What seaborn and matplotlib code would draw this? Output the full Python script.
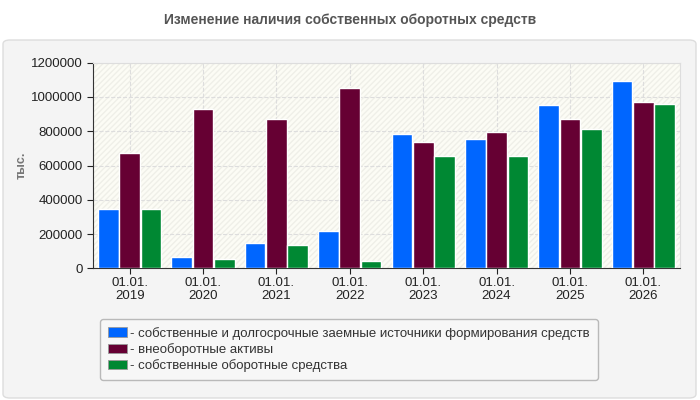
import matplotlib
matplotlib.use('Agg')

import pandas as pd
import matplotlib.pyplot as plt
import seaborn as sns
from matplotlib.patches import FancyBboxPatch, Rectangle
from matplotlib.ticker import StrMethodFormatter

dates = ['01.01.\n2019', '01.01.\n2020', '01.01.\n2021', '01.01.\n2022',
         '01.01.\n2023', '01.01.\n2024', '01.01.\n2025', '01.01.\n2026']
own_long = [346000, 66000, 150000, 218000, 784000, 755000, 953000, 1093000]
noncurrent = [673000, 930000, 871000, 1052000, 737000, 796000, 871000, 971000]
own_working = [346000, 54000, 136000, 43000, 655000, 655000, 813000, 959000]

names = ['- собственные и долгосрочные заемные источники формирования средств',
         '- внеоборотные активы',
         '- собственные оборотные средства']
colors = ['#0066ff', '#660033', '#008833']

df = pd.DataFrame({
    'date': dates * 3,
    'value': own_long + noncurrent + own_working,
    'series': [names[0]] * 8 + [names[1]] * 8 + [names[2]] * 8,
})

sns.set_style('white')
plt.rcParams['font.family'] = ['Liberation Sans', 'DejaVu Sans']

fig = plt.figure(figsize=(7, 4), dpi=100)
fig.patch.set_facecolor('#ffffff')
# outer panel
fig.patches.append(FancyBboxPatch((3 / 700, 2 / 400), 693 / 700, 358 / 400,
                                  boxstyle='round,pad=0,rounding_size=0.01',
                                  transform=fig.transFigure, facecolor='#f4f4f4',
                                  edgecolor='#dddddd', lw=1, zorder=-5))
fig.text(0.5, 1 - 20 / 400, 'Изменение наличия собственных оборотных средств',
         ha='center', va='center', fontsize=10, fontweight='bold', color='#555555')
fig.text(22 / 700, 1 - 165 / 400, 'тыс.', rotation=90, ha='center', va='center',
         color='#777777', fontweight='bold', fontsize=9)

ax = fig.add_axes([93 / 700, 1 - 268.3 / 400, 587 / 700, 205.6 / 400])
ax.set_facecolor('#fcfcf5')
ax.add_patch(Rectangle((0, 0), 1, 1, transform=ax.transAxes, facecolor='none',
                       edgecolor='#efefe8', hatch='//////', lw=0, zorder=0))

sns.barplot(data=df, x='date', y='value', hue='series', palette=colors,
            width=0.87, gap=0.03, saturation=1, ax=ax, legend=False, zorder=3)

ax.set_ylim(0, 1200000)
ax.set_yticks(range(0, 1200001, 200000))
ax.yaxis.set_major_formatter(StrMethodFormatter('{x:.0f}'))
ax.set_xlim(-0.5, len(dates) - 0.5)
ax.grid(True, color='#dddddd', ls='--', lw=0.8, zorder=1)
ax.set_axisbelow(True)
ax.set_xlabel('')
ax.set_ylabel('')
ax.tick_params(axis='both', labelsize=9.5, colors='#222222', length=4, direction='out')
ax.tick_params(axis='x', pad=2)
ax.tick_params(bottom=True, left=True)
for s in ['top', 'right']:
    ax.spines[s].set_color('#dddddd')
for s in ['left', 'bottom']:
    ax.spines[s].set_color('#333333')

handles = [Rectangle((0, 0), 1, 1, facecolor=c, edgecolor='#999999', lw=0.6) for c in colors]
leg = fig.legend(handles, names, loc='center', bbox_to_anchor=(349 / 700, 1 - 349.5 / 400),
                 fontsize=9.5, frameon=True, fancybox=True, handlelength=1.4, handleheight=0.7,
                 handletextpad=0.25, labelspacing=0.25, borderpad=0.6, labelcolor='#333333')
leg.get_frame().set_facecolor('#f9f9f9')
leg.get_frame().set_edgecolor('#aaaaaa')

fig.savefig('out.png', dpi=100)
